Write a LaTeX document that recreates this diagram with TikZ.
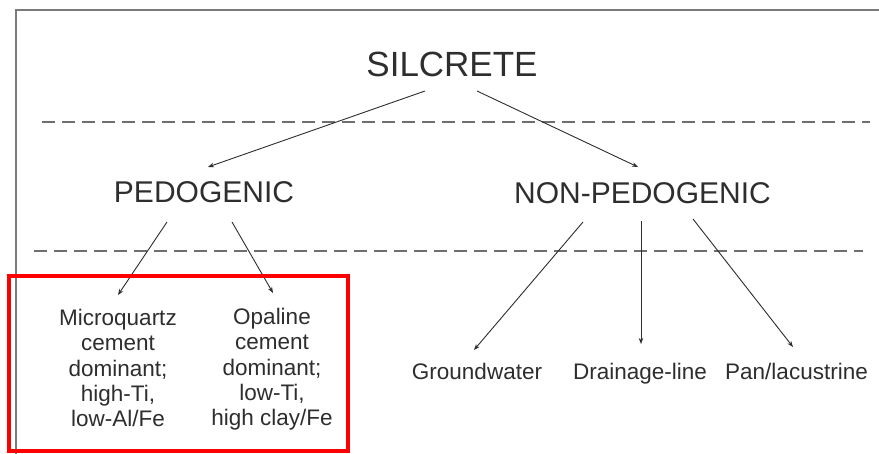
\documentclass[tikz,border=0pt]{standalone}
\usepackage{fontspec}
\setmainfont{Liberation Sans}
\usetikzlibrary{arrows.meta}
\definecolor{txt}{HTML}{2E2E2E}
\definecolor{dashc}{HTML}{6E6E6E}
\definecolor{framec}{HTML}{7A7A7A}
\tikzset{
  lbl/.style={inner sep=0pt, text=txt},
  big/.style={lbl, font=\fontsize{35}{40}\selectfont},
  mid/.style={lbl, font=\fontsize{30}{34}\selectfont},
  small/.style={lbl, font=\fontsize{22.5}{25.3}\selectfont, align=center},
  arr/.style={draw=txt, line width=0.9pt, -{Stealth[length=6pt,width=4.5pt]}},
  sep/.style={draw=dashc, line width=1.2pt, dash pattern=on 13pt off 7pt},
  frameline/.style={draw=framec, line width=1.2pt},
  hilite/.style={draw=red, line width=4pt}
}
\begin{document}
\begin{tikzpicture}[x=1pt,y=-1pt]
\useasboundingbox (0,0) rectangle (879,454);
\fill[white] (0,0) rectangle (879,454);
% frame
\draw[frameline] (16,454) -- (16,10) -- (879,10);
% separators
\draw[sep] (42,122) -- (870,122);
\draw[sep] (34,251) -- (863,251);
% nodes
\node[big, anchor=base] (sil) at (452,77) {SILCRETE};
\node[mid, anchor=base] (ped) at (204,203) {PEDOGENIC};
\node[mid, anchor=base] (np) at (642.5,204) {NON-PEDOGENIC};
\node[small, anchor=north] (mq) at (118,309) {Microquartz\\cement\\dominant;\\high-Ti,\\low-Al/Fe};
\node[small, anchor=north] (op) at (272,308) {Opaline\\cement\\dominant;\\low-Ti,\\high clay/Fe};
\node[small, anchor=base] (gw) at (477,380) {Groundwater};
\node[small, anchor=base] (dl) at (640,380) {Drainage-line};
\node[small, anchor=base] (pl) at (796.5,380) {Pan/lacustrine};
% connectors
\draw[arr] ([shift={(-27,14)}]sil.base) -- ([shift={(4,-36)}]ped.base);
\draw[arr] ([shift={(25,14)}]sil.base) -- ([shift={(-4.5,-37)}]np.base);
\draw[arr] ([shift={(-37,19)}]ped.base) -- ([shift={(0,-14)}]mq.north);
\draw[arr] ([shift={(28,19)}]ped.base) -- ([shift={(1,-15)}]op.north);
\draw[arr] ([shift={(-59.5,18)}]np.base) -- ([shift={(-3,-30)}]gw.base);
\draw[arr] ([shift={(-1.5,17)}]np.base) -- ([shift={(1,-36)}]dl.base);
\draw[arr] ([shift={(50.5,15)}]np.base) -- ([shift={(-3.5,-33)}]pl.base);
% highlight box
\draw[hilite] (9,276) rectangle (348,451);
\end{tikzpicture}
\end{document}
